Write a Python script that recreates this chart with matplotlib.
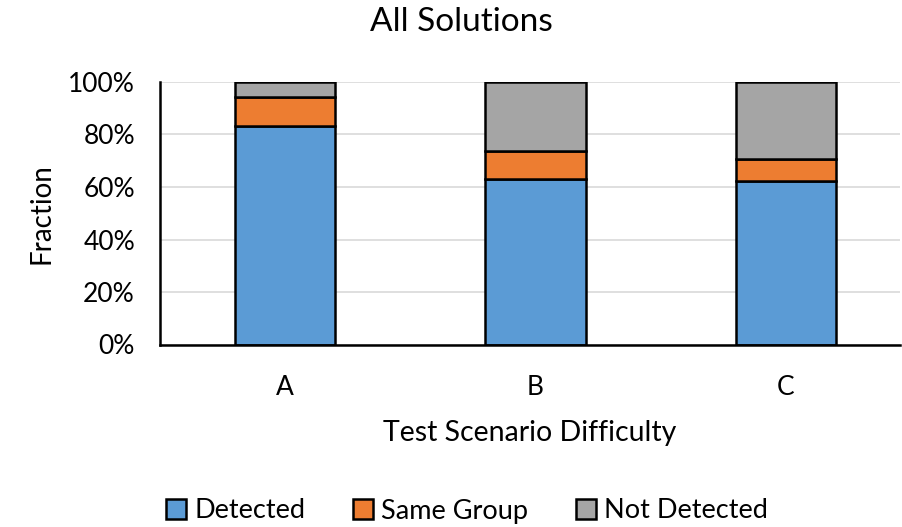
import matplotlib.pyplot as plt

plt.rcParams['font.family'] = ['Lato', 'DejaVu Sans']

categories = ['A', 'B', 'C']
detected = [83.4, 63.0, 62.4]
same_group = [10.9, 10.8, 8.1]
not_detected = [100 - d - s for d, s in zip(detected, same_group)]

fig = plt.figure(figsize=(9.02, 5.27), dpi=100)
ax = fig.add_axes([160 / 902, 1 - 344.5 / 527, 740 / 902, 262.5 / 527])

x = range(len(categories))
w = 0.4
edge = dict(edgecolor='black', linewidth=1.8)
ax.bar(x, detected, w, color='#5B9BD5', label='Detected', **edge, zorder=3)
ax.bar(x, same_group, w, bottom=detected, color='#ED7D31', label='Same Group', **edge, zorder=3)
bottom2 = [d + s for d, s in zip(detected, same_group)]
ax.bar(x, not_detected, w, bottom=bottom2, color='#A5A5A5', label='Not Detected', **edge, zorder=3)

ax.set_xlim(-0.5, 2.456)
ax.set_ylim(0, 100)
ax.set_yticks(range(0, 101, 20))
ax.set_yticklabels([f'{v}%' for v in range(0, 101, 20)], fontsize=19)
ax.set_xticks(list(x))
ax.set_xticklabels(categories, fontsize=19)
ax.tick_params(axis='x', length=0, pad=22)
ax.tick_params(axis='y', length=0, pad=18)
ax.grid(axis='y', color='#d9d9d9', linewidth=1.2, zorder=0)
for s in ['top', 'right']:
    ax.spines[s].set_visible(False)
for s in ['left', 'bottom']:
    ax.spines[s].set_linewidth(1.8)
    ax.spines[s].set_zorder(4)

fig.suptitle('All Solutions', fontsize=24, x=461 / 902, y=1 - 22 / 527, va='center')
ax.set_xlabel('Test Scenario Difficulty', fontsize=20.5, labelpad=14)
ax.set_ylabel('Fraction', fontsize=20, labelpad=10)

fig.legend(loc='center', bbox_to_anchor=(467 / 902, 1 - 511 / 527), ncol=3, frameon=False,
           fontsize=19.5, handlelength=0.75, handleheight=0.75, handletextpad=0.3,
           columnspacing=1.75, borderpad=0)

fig.savefig('out.png', dpi=100)
